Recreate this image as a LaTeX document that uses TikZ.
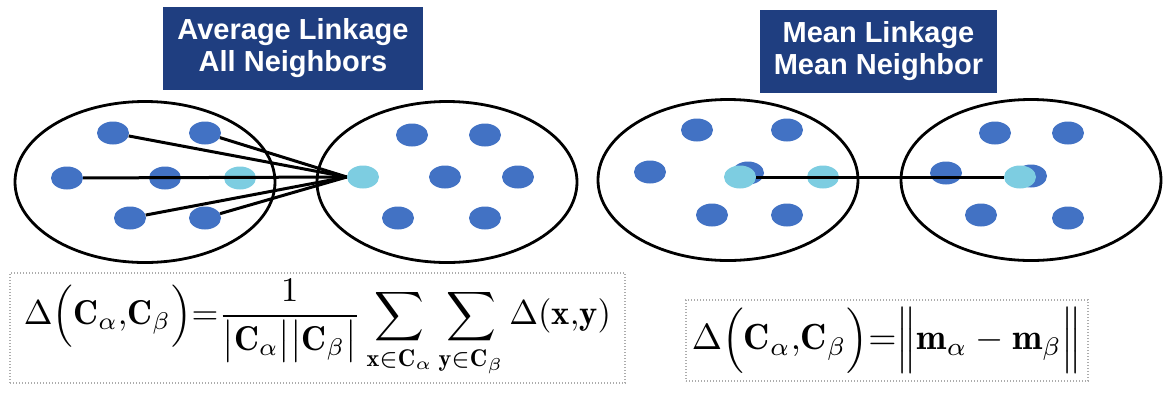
\documentclass[tikz,border=0pt]{standalone}
\usepackage{fontspec}
\usepackage{graphicx}
\usetikzlibrary{shapes.geometric}
\newfontfamily\titlefont{Liberation Sans}
\definecolor{navy}{RGB}{31,62,128}
\definecolor{dotblue}{RGB}{66,114,196}
\definecolor{dotcyan}{RGB}{125,205,225}
\begin{document}
\begin{tikzpicture}[x=1pt,y=-1pt,
  cluster/.style={ellipse,draw=black,line width=2.8pt,minimum width=260pt,minimum height=161pt,inner sep=0pt},
  pt/.style={ellipse,fill=dotblue,minimum width=32pt,minimum height=23pt,inner sep=0pt},
  ctr/.style={pt,fill=dotcyan},
  titlebox/.style={fill=navy,text=white,font=\titlefont\bfseries\fontsize{29}{32}\selectfont,align=center,inner sep=0pt,minimum height=83pt},
  link/.style={line width=3pt,draw=black},
  formbox/.style={draw=gray!65,line width=1.2pt,dash pattern=on 1.2pt off 1.8pt,inner sep=0pt}]
\useasboundingbox (0,0) rectangle (1163,392);
% titles
\node[titlebox,minimum width=260pt] (tA) at (293,48.5) {Average Linkage\\All Neighbors};
\node[titlebox,minimum width=237pt] (tB) at (878.5,51.5) {Mean Linkage\\Mean Neighbor};
% clusters
\node[cluster] (E1) at (145,182) {};
\node[cluster] (E2) at (447,182) {};
\node[cluster] (E3) at (728,180) {};
\node[cluster] (E4) at (1031,180) {};
% dots, cluster 1
\node[pt] (a1) at (113,133) {};
\node[pt] (a2) at (205,133) {};
\node[pt] (a3) at (67,178) {};
\node[pt] (a4) at (165,178) {};
\node[ctr] (a5) at (240,178) {};
\node[pt] (a6) at (130,218) {};
\node[pt] (a7) at (205,218) {};
% dots, cluster 2
\node[pt] (b1) at (412,135) {};
\node[pt] (b2) at (485,135) {};
\node[ctr] (b3) at (363,177) {};
\node[pt] (b4) at (445,177) {};
\node[pt] (b5) at (518,177) {};
\node[pt] (b6) at (398,218) {};
\node[pt] (b7) at (485,218) {};
% dots, cluster 3
\node[pt] (c1) at (697,130) {};
\node[pt] (c2) at (787,130) {};
\node[pt] (c3) at (650,172) {};
\node[pt] (c4) at (748,173) {};
\node[ctr] (c5) at (740,177) {};
\node[ctr] (c6) at (823,177) {};
\node[pt] (c7) at (712,215) {};
\node[pt] (c8) at (787,215) {};
% dots, cluster 4
\node[pt] (d1) at (995,133) {};
\node[pt] (d2) at (1068,133) {};
\node[pt] (d3) at (946,173) {};
\node[pt] (d4) at (1031,176) {};
\node[ctr] (d5) at (1020,177) {};
\node[pt] (d6) at (981,215) {};
\node[pt] (d7) at (1068,218) {};
% links
\draw[link] (a1) -- (b3.west);
\draw[link] (a2) -- (b3.west);
\draw[link] (a3) -- (b3.west);
\draw[link] (a6) -- (b3.west);
\draw[link] (a7) -- (b3.west);
\draw[link] (c5.east) -- (d5.west);
% formulas
\node[formbox,minimum width=615pt,minimum height=110pt] (f1) at (317.5,328)
  {\resizebox{587pt}{!}{$\displaystyle \Delta\Bigl(\mathbf{C}_{\alpha}{,}\mathbf{C}_{\beta}\Bigr){=}\frac{1}{\bigl|\mathbf{C}_{\alpha}\bigr|\bigl|\mathbf{C}_{\beta}\bigr|}\sum_{\mathbf{x}\in\mathbf{C}_{\alpha}}\sum_{\mathbf{y}\in\mathbf{C}_{\beta}}\Delta(\mathbf{x}{,}\mathbf{y})$}};
\node[formbox,minimum width=402pt,minimum height=81pt] (f2) at (887,340.5)
  {\resizebox{390pt}{!}{$\displaystyle \Delta\Bigl(\mathbf{C}_{\alpha}{,}\mathbf{C}_{\beta}\Bigr){=}\Bigl\|\mathbf{m}_{\alpha}-\mathbf{m}_{\beta}\Bigr\|$}};
\end{tikzpicture}
\end{document}
